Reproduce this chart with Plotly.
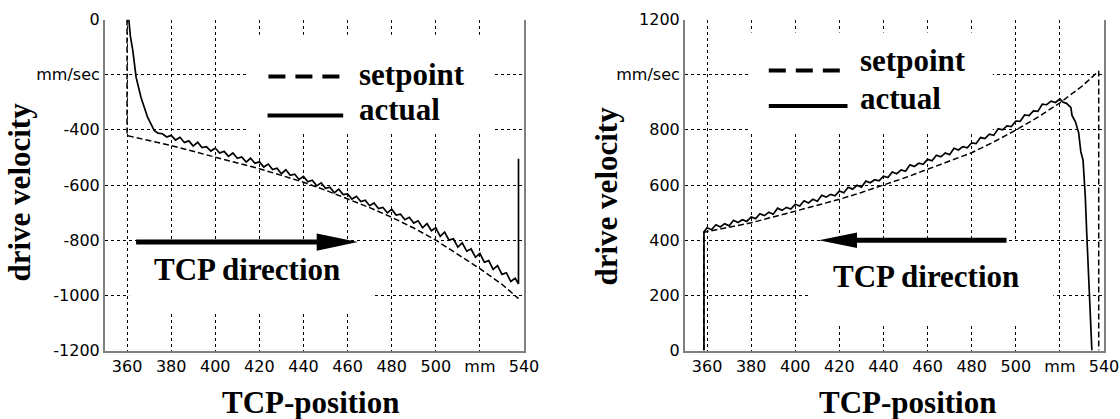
import plotly.graph_objects as go

# ---------------- data ----------------
pos_set_L = [360, 360, 370, 380, 390, 400, 410, 420, 430, 440, 450, 460, 470, 480,
             490, 500, 510, 520, 530, 537.5]
vel_set_L = [0, -421, -439, -457, -478, -499, -520, -541, -565, -590, -619, -650, -682, -717,
             -756, -800, -850, -903, -960, -1012]

pos_act_L = [360.8, 361.5, 362.6, 364.1, 366.3, 369.3, 372.3, 374, 376, 378, 380, 382, 384, 386,
             388, 390, 392, 394, 396, 398, 400, 402, 404, 406, 408, 410, 412, 414, 416, 418,
             420, 422, 424, 426, 428, 430, 432, 434, 436, 438, 440, 442, 444, 446, 448, 450,
             452, 454, 456, 458, 460, 462, 464, 466, 468, 470, 472, 474, 476, 478, 480, 482,
             484, 486, 488, 490, 492, 494, 496, 498, 500, 502, 504, 506, 508, 510, 512, 514,
             516, 518, 520, 522, 524, 526, 528, 530, 532, 534, 536, 537.5, 537.5]
vel_act_L = [0, -60, -112, -209, -282, -354, -402, -412, -414, -426, -420, -437, -427, -446,
             -440, -459, -445, -464, -461, -477, -466, -484, -478, -496, -484, -503, -498, -517,
             -503, -521, -516, -535, -524, -544, -539, -559, -545, -565, -561, -580, -569, -588,
             -583, -603, -592, -612, -608, -628, -615, -635, -632, -651, -641, -660, -655, -675,
             -665, -685, -681, -701, -688, -709, -706, -726, -717, -738, -730, -755, -740, -766,
             -755, -786, -771, -800, -795, -825, -810, -840, -832, -862, -848, -880, -874, -906,
             -892, -924, -918, -950, -938, -958, -505]

pos_set_R = [358.5, 358.5, 360, 370, 380, 390, 400, 410, 420, 430, 440, 450, 460, 470, 480,
             490, 500, 510, 520, 530, 537.6, 537.6]
vel_set_R = [0, 428, 431, 446, 463, 484, 505, 526, 548, 573, 599, 627, 657, 686, 717,
             756, 799, 846, 898, 958, 1013, 0]

pos_act_R = [358.6, 358.6, 360, 362, 364, 366, 368, 370, 372, 374, 376, 378, 380, 382, 384,
             386, 388, 390, 392, 394, 396, 398, 400, 402, 404, 406, 408, 410, 412, 414, 416,
             418, 420, 422, 424, 426, 428, 430, 432, 434, 436, 438, 440, 442, 444, 446, 448,
             450, 452, 454, 456, 458, 460, 462, 464, 466, 468, 470, 472, 474, 476, 478, 480,
             482, 484, 486, 488, 490, 492, 494, 496, 498, 500, 502, 504, 506, 508, 510, 512,
             514, 516, 518, 520, 521.5, 523, 525, 525.5, 527, 528.5, 529.5, 530.5, 531.5,
             532.2, 533.2, 534.5]
vel_act_R = [0, 430, 445, 438, 456, 448, 460, 452, 472, 464, 474, 468, 484, 478, 496,
             489, 501, 494, 516, 508, 519, 513, 530, 524, 543, 535, 548, 541, 563, 556, 566,
             561, 578, 572, 592, 585, 599, 592, 614, 608, 619, 615, 632, 627, 647, 641, 655,
             650, 673, 667, 679, 675, 693, 688, 708, 702, 716, 710, 733, 727, 739, 735, 753,
             750, 772, 768, 784, 780, 804, 800, 814, 812, 832, 831, 854, 852, 869, 867, 893,
             891, 904, 899, 912, 900, 896, 880, 852, 830, 790, 720, 690, 560,
             420, 250, 0]

x_ticks = [360, 380, 400, 420, 440, 460, 480, 500, 520, 540]
x_ticktext = ["360", "380", "400", "420", "440", "460", "480", "500", "mm", "540"]
yL_ticks = [0, -200, -400, -600, -800, -1000, -1200]
yL_ticktext = ["0", "mm/sec", "-400", "-600", "-800", "-1000", "-1200"]
yR_ticks = [0, 200, 400, 600, 800, 1000, 1200]
yR_ticktext = ["0", "200", "400", "600", "800", "mm/sec", "1200"]

legend_labels = ["setpoint", "actual"]
x_title = "TCP-position"
y_title = "drive velocity"
dir_label = "TCP direction"

# ---------------- figure ----------------
W, H = 1120, 419
fig = go.Figure()

set_style = dict(color="black", width=1.5, dash="6px,3px")
act_style = dict(color="black", width=1.7)

fig.add_trace(go.Scatter(x=pos_set_L, y=vel_set_L, mode="lines", line=set_style,
                         xaxis="x", yaxis="y", showlegend=False))
fig.add_trace(go.Scatter(x=pos_act_L, y=vel_act_L, mode="lines", line=act_style,
                         xaxis="x", yaxis="y", showlegend=False))
fig.add_trace(go.Scatter(x=pos_set_R, y=vel_set_R, mode="lines", line=set_style,
                         xaxis="x2", yaxis="y2", showlegend=False))
fig.add_trace(go.Scatter(x=pos_act_R, y=vel_act_R, mode="lines", line=act_style,
                         xaxis="x2", yaxis="y2", showlegend=False))

tickfont = dict(family="DejaVu Sans", size=16, color="black")
common = dict(showline=True, linecolor="#808080", linewidth=2, ticks="", zeroline=False,
              showgrid=True, gridcolor="black", gridwidth=1, griddash="3px,3px",
              tickfont=tickfont, fixedrange=True, automargin=False)

ydom = [1 - 350.5 / H, 1 - 19.5 / H]
fig.update_layout(
    width=W, height=H, autosize=False,
    margin=dict(l=0, r=0, t=0, b=0, pad=0),
    paper_bgcolor="white", plot_bgcolor="white",
    xaxis=dict(domain=[105 / W, 524 / W], range=[350, 540], tickmode="array",
               tickvals=x_ticks, ticktext=x_ticktext, anchor="y", **common),
    yaxis=dict(domain=ydom, range=[-1200, 0], tickmode="array", tickvals=yL_ticks,
               ticktext=yL_ticktext, anchor="x", mirror=True, **common),
    xaxis2=dict(domain=[685 / W, 1104 / W], range=[350, 540], tickmode="array",
                tickvals=x_ticks, ticktext=x_ticktext, anchor="y2", **common),
    yaxis2=dict(domain=ydom, range=[0, 1200], tickmode="array", tickvals=yR_ticks,
                ticktext=yR_ticktext, anchor="x2", mirror=True, **common),
)

shapes = []
# white boxes hiding the grid behind the labels
for xr, yr, x0, x1, y0, y1 in [
    ("x", "y", 414.6, 525.7, -55, -415),
    ("x", "y", 361, 471, -805, -1066),
    ("x2", "y2", 379.8, 489.6, 1153, 795),
    ("x2", "y2", 407, 517, 396, 94),
]:
    shapes.append(dict(type="rect", xref=xr, yref=yr, x0=x0, x1=x1, y0=y0, y1=y1,
                       fillcolor="white", line=dict(width=0), layer="between"))

# legend samples
shapes += [
    dict(type="line", xref="x", yref="y", x0=424.1, x1=457.5, y0=-207, y1=-207,
         line=dict(color="black", width=4, dash="17px,10px")),
    dict(type="line", xref="x", yref="y", x0=423.7, x1=458, y0=-348, y1=-348,
         line=dict(color="black", width=4)),
    dict(type="line", xref="x2", yref="y2", x0=388, x1=420.5, y0=1015, y1=1015,
         line=dict(color="black", width=4, dash="17px,10px")),
    dict(type="line", xref="x2", yref="y2", x0=388, x1=423.7, y0=886, y1=886,
         line=dict(color="black", width=4)),
]
# direction arrows
shapes += [
    dict(type="line", xref="x", yref="y", x0=364.1, x1=447, y0=-807, y1=-807,
         line=dict(color="black", width=5)),
    dict(type="path", xref="x", yref="y", path="M 446,-776 L 464.7,-807 L 446,-838 Z",
         fillcolor="black", line=dict(width=0)),
    dict(type="line", xref="x2", yref="y2", x0=495.8, x1=427, y0=400, y1=400,
         line=dict(color="black", width=5)),
    dict(type="path", xref="x2", yref="y2", path="M 428,428 L 410.7,400 L 428,372 Z",
         fillcolor="black", line=dict(width=0)),
]
fig.update_layout(shapes=shapes)

big = dict(family="Liberation Serif", size=31, color="black")
ann = [
    dict(xref="x", yref="y", x=464.3, y=-198, text="<b>%s</b>" % legend_labels[0],
         xanchor="left", yanchor="middle", showarrow=False, font=big),
    dict(xref="x", yref="y", x=464.3, y=-328, text="<b>%s</b>" % legend_labels[1],
         xanchor="left", yanchor="middle", showarrow=False, font=big),
    dict(xref="x2", yref="y2", x=428.6, y=1050, text="<b>%s</b>" % legend_labels[0],
         xanchor="left", yanchor="middle", showarrow=False, font=big),
    dict(xref="x2", yref="y2", x=428.6, y=912, text="<b>%s</b>" % legend_labels[1],
         xanchor="left", yanchor="middle", showarrow=False, font=big),
    dict(xref="x", yref="y", x=414.6, y=-908, text="<b>%s</b>" % dir_label,
         xanchor="center", yanchor="middle", showarrow=False, font=big),
    dict(xref="x2", yref="y2", x=459.3, y=267, text="<b>%s</b>" % dir_label,
         xanchor="center", yanchor="middle", showarrow=False, font=big),
    # axis titles
    dict(xref="paper", yref="paper", x=310 / W, y=1 - 402.5 / H, text="<b>%s</b>" % x_title,
         xanchor="center", yanchor="middle", showarrow=False, font=big),
    dict(xref="paper", yref="paper", x=907.5 / W, y=1 - 402.5 / H, text="<b>%s</b>" % x_title,
         xanchor="center", yanchor="middle", showarrow=False, font=big),
    dict(xref="paper", yref="paper", x=19.5 / W, y=1 - 192 / H, text="<b>%s</b>" % y_title,
         textangle=-90, xanchor="center", yanchor="middle", showarrow=False, font=big),
    dict(xref="paper", yref="paper", x=606.5 / W, y=1 - 196 / H, text="<b>%s</b>" % y_title,
         textangle=-90, xanchor="center", yanchor="middle", showarrow=False, font=big),
]
fig.update_layout(annotations=ann)

fig.write_html("out.html", config={"displayModeBar": False})
